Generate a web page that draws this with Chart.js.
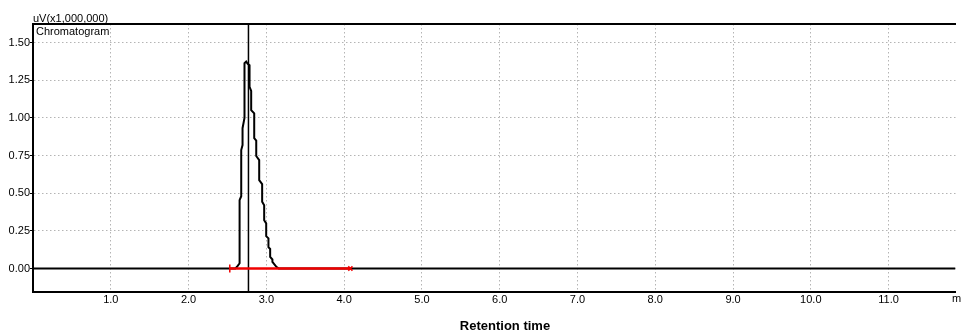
<!DOCTYPE html>
<html>
<head>
<meta charset="utf-8">
<script src="https://cdn.jsdelivr.net/npm/chart.js@4/dist/chart.umd.min.js"></script>
<style>
  html, body { margin: 0; padding: 0; background: #fff; }
  #wrap { width: 961px; height: 334px; position: relative; }
</style>
</head>
<body>
<div id="wrap"><canvas id="chart"></canvas></div>
<script>
// chromatogram trace (minutes, uV x1,000,000)
const retentionTimes = [0, 2.60, 2.62, 2.656, 2.656, 2.677, 2.677, 2.694, 2.694, 2.719, 2.719, 2.741, 2.760,
  2.784, 2.784, 2.805, 2.805, 2.844, 2.844, 2.870, 2.870, 2.908, 2.908, 2.946, 2.946, 2.972, 2.972,
  2.998, 2.998, 3.027, 3.027, 3.049, 3.049, 3.078, 3.078, 3.129, 3.16, 11.86];
const signal = [0, 0, 0.01, 0.035, 0.454, 0.48, 0.787, 0.82, 0.932, 1.0, 1.363, 1.374, 1.36,
  1.35, 1.207, 1.18, 1.052, 1.03, 0.866, 0.85, 0.747, 0.72, 0.587, 0.56, 0.443, 0.42, 0.321,
  0.30, 0.215, 0.20, 0.142, 0.13, 0.077, 0.06, 0.044, 0.011, 0, 0];

// integration baseline (red) and peak marker
const baselineTimes = [2.53, 4.08];
const baselineLevels = [0, 0];
const markerTime = 2.77;

const xTicks = [1, 2, 3, 4, 5, 6, 7, 8, 9, 10, 11];
const yTicks = [0, 0.25, 0.5, 0.75, 1.0, 1.25, 1.5];
const xRange = [0, 11.86];
const yRange = [-0.156, 1.624];

const font = "'Liberation Sans', Arial, sans-serif";

function pairs(xs, ys) {
  return xs.map((x, i) => ({ x: x, y: ys[i] }));
}

const labelsPlugin = {
  id: "labels",
  afterDraw(chart) {
    const ctx = chart.ctx;
    const area = chart.chartArea;
    ctx.save();
    ctx.fillStyle = "#000";
    ctx.font = "11px " + font;
    ctx.textAlign = "left";
    ctx.textBaseline = "alphabetic";
    ctx.fillText("uV(x1,000,000)", area.left, area.top - 2);
    ctx.fillText("Chromatogram", area.left + 3, area.top + 11);
    ctx.textBaseline = "middle";
    ctx.fillText("min", 952, 299);
    ctx.font = "bold 13px " + font;
    ctx.textAlign = "center";
    ctx.fillText("Retention time", 505, 326);
    ctx.restore();
  }
};

new Chart(document.getElementById("chart"), {
  type: "line",
  data: {
    datasets: [
      {
        label: "Chromatogram",
        data: pairs(retentionTimes, signal),
        borderColor: "#000",
        borderWidth: 2,
        pointRadius: 0,
        tension: 0,
        order: 3
      },
      {
        label: "Marker",
        data: pairs([markerTime, markerTime], yRange),
        borderColor: "#000",
        borderWidth: 1.5,
        pointRadius: 0,
        order: 2
      },
      {
        label: "Baseline",
        data: pairs(baselineTimes, baselineLevels),
        borderColor: "#f00000",
        backgroundColor: "#f00000",
        borderWidth: 2.5,
        pointStyle: ["line", "crossRot"],
        rotation: [90, 0],
        pointRadius: [4, 3],
        pointBorderColor: "#f00000",
        pointBorderWidth: 1.5,
        order: 1
      }
    ]
  },
  options: {
    responsive: true,
    maintainAspectRatio: false,
    animation: false,
    devicePixelRatio: 1,
    layout: { padding: { top: 24, right: 1, left: 0, bottom: 0 } },
    plugins: {
      legend: { display: false },
      tooltip: { enabled: false }
    },
    scales: {
      x: {
        type: "linear",
        min: xRange[0],
        max: xRange[1],
        afterBuildTicks: s => { s.ticks = xTicks.map(v => ({ value: v })); },
        afterFit: s => { s.height = 42; },
        ticks: {
          color: "#000",
          font: { family: font, size: 11 },
          padding: 1,
          maxRotation: 0,
          autoSkip: false,
          callback: v => v.toFixed(1)
        },
        grid: { color: "#b4b4b4", lineWidth: 1, drawTicks: false },
        border: { color: "#000", width: 2, dash: [1.5, 2.5] }
      },
      xTop: {
        type: "linear",
        position: "top",
        min: xRange[0],
        max: xRange[1],
        afterFit: s => { s.height = 0; },
        ticks: { display: false },
        grid: { display: false, drawTicks: false },
        border: { color: "#000", width: 2 }
      },
      y: {
        min: yRange[0],
        max: yRange[1],
        afterBuildTicks: s => { s.ticks = yTicks.map(v => ({ value: v })); },
        afterFit: s => { s.width = 33; },
        ticks: {
          color: "#000",
          font: { family: font, size: 11 },
          padding: 0,
          callback: v => v.toFixed(2)
        },
        grid: { color: "#b4b4b4", lineWidth: 1, tickLength: 3, tickColor: "#000", tickBorderDash: [] },
        border: { color: "#000", width: 2, dash: [1.5, 2.5] }
      }
    }
  },
  plugins: [labelsPlugin]
});
</script>
</body>
</html>
